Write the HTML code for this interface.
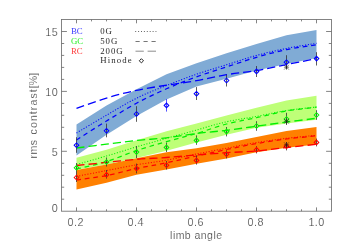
<!DOCTYPE html><html><head><meta charset="utf-8"><title>rms contrast</title>
<style>html,body{margin:0;padding:0;background:#fff;}svg{display:block;will-change:transform}text{font-family:"Liberation Sans",sans-serif;stroke:#fff;stroke-width:0.15px;}.s{font-family:"Liberation Serif",serif;stroke:none;}</style></head><body>
<svg width="350" height="250" viewBox="0 0 350 250">
<rect width="350" height="250" fill="#fff"/>
<polygon points="76.5,124.6 106.5,105.6 136.5,89.2 166.5,74.3 196.5,63.2 226.5,53.3 256.5,44.1 286.5,35.3 316.5,30.0 316.5,58.0 286.5,64.0 256.5,70.5 226.5,78.8 196.5,86.6 166.5,99.6 136.5,116.0 106.5,134.8 76.5,155.4" fill="#80abd5"/>
<polygon points="76.5,157.8 106.5,149.8 136.5,140.2 166.5,131.2 196.5,123.6 226.5,115.6 256.5,107.8 286.5,100.4 316.5,95.8 316.5,119.8 286.5,123.5 256.5,127.8 226.5,134.8 196.5,142.4 166.5,150.8 136.5,158.0 106.5,164.4 76.5,169.8" fill="#beff78"/>
<polygon points="76.5,170.0 106.5,164.6 136.5,158.2 166.5,152.2 196.5,148.2 226.5,143.0 256.5,136.9 286.5,131.0 316.5,127.0 316.5,144.6 286.5,147.8 256.5,152.2 226.5,158.6 196.5,163.8 166.5,169.4 136.5,174.8 106.5,182.8 76.5,189.4" fill="#ff8000"/>
<path d="M76.5,108.3 C81.5,106.6 96.5,101.1 106.5,98.1 C116.5,95.1 126.5,92.4 136.5,90.3 C146.5,88.2 156.5,86.8 166.5,85.2 C176.5,83.6 186.5,82.5 196.5,80.7 C206.5,79.0 216.5,76.4 226.5,74.7 C236.5,73.0 246.5,72.3 256.5,70.6 C266.5,68.9 276.5,66.6 286.5,64.6 C296.5,62.6 311.5,59.6 316.5,58.6" fill="none" stroke="#0000ff" stroke-width="1.3" stroke-dasharray="8.2 4"/>
<path d="M76.5,133.0 C81.5,130.0 96.5,121.0 106.5,115.2 C116.5,109.4 126.5,103.2 136.5,98.2 C146.5,93.2 156.5,89.5 166.5,85.5 C176.5,81.5 186.5,77.7 196.5,74.2 C206.5,70.8 216.5,67.9 226.5,64.8 C236.5,61.7 246.5,58.1 256.5,55.4 C266.5,52.7 276.5,50.4 286.5,48.4 C296.5,46.4 311.5,44.1 316.5,43.3" fill="none" stroke="#0000ff" stroke-width="1.05" stroke-dasharray="1.1 1.7"/>
<path d="M76.5,140.0 C81.5,136.8 96.5,127.1 106.5,121.0 C116.5,114.9 126.5,108.6 136.5,103.2 C146.5,97.8 156.5,93.2 166.5,88.8 C176.5,84.4 186.5,80.4 196.5,76.8 C206.5,73.2 216.5,70.2 226.5,66.9 C236.5,63.7 246.5,60.2 256.5,57.3 C266.5,54.4 276.5,51.7 286.5,49.6 C296.5,47.5 311.5,45.5 316.5,44.7" fill="none" stroke="#0000ff" stroke-width="1.25" stroke-dasharray="4.6 3.9"/>
<path d="M76.5,148.0 C81.5,147.4 96.5,145.4 106.5,144.2 C116.5,142.9 126.5,141.6 136.5,140.5 C146.5,139.4 156.5,139.0 166.5,137.8 C176.5,136.6 186.5,134.8 196.5,133.5 C206.5,132.2 216.5,131.5 226.5,130.3 C236.5,129.1 246.5,127.6 256.5,126.2 C266.5,124.8 276.5,123.3 286.5,122.0 C296.5,120.7 311.5,118.9 316.5,118.3" fill="none" stroke="#00f000" stroke-width="1.3" stroke-dasharray="8.2 4"/>
<path d="M76.5,164.5 C81.5,163.1 96.5,158.9 106.5,156.0 C116.5,153.1 126.5,149.8 136.5,146.8 C146.5,143.9 156.5,141.1 166.5,138.3 C176.5,135.5 186.5,132.8 196.5,130.0 C206.5,127.2 216.5,124.1 226.5,121.8 C236.5,119.5 246.5,118.3 256.5,116.4 C266.5,114.5 276.5,112.1 286.5,110.5 C296.5,108.9 311.5,107.6 316.5,107.0" fill="none" stroke="#00f000" stroke-width="1.05" stroke-dasharray="1.1 1.7"/>
<path d="M76.5,169.0 C81.5,167.8 96.5,164.7 106.5,161.6 C116.5,158.5 126.5,153.9 136.5,150.6 C146.5,147.3 156.5,144.4 166.5,141.6 C176.5,138.8 186.5,136.4 196.5,133.5 C206.5,130.6 216.5,126.6 226.5,124.0 C236.5,121.4 246.5,119.9 256.5,117.7 C266.5,115.5 276.5,112.7 286.5,110.9 C296.5,109.2 311.5,107.8 316.5,107.2" fill="none" stroke="#00f000" stroke-width="1.25" stroke-dasharray="4.6 3.9"/>
<path d="M76.5,165.5 C81.5,165.0 96.5,163.4 106.5,162.4 C116.5,161.4 126.5,160.1 136.5,159.3 C146.5,158.5 156.5,158.2 166.5,157.5 C176.5,156.8 186.5,155.8 196.5,155.0 C206.5,154.2 216.5,153.4 226.5,152.7 C236.5,152.0 246.5,151.9 256.5,151.0 C266.5,150.1 276.5,148.6 286.5,147.5 C296.5,146.4 311.5,144.8 316.5,144.3" fill="none" stroke="#ff0000" stroke-width="1.3" stroke-dasharray="8.2 4"/>
<path d="M76.5,176.4 C81.5,175.4 96.5,172.5 106.5,170.6 C116.5,168.7 126.5,166.5 136.5,164.8 C146.5,163.1 156.5,162.0 166.5,160.2 C176.5,158.4 186.5,156.0 196.5,154.0 C206.5,152.0 216.5,150.1 226.5,148.2 C236.5,146.3 246.5,144.2 256.5,142.6 C266.5,140.9 276.5,139.5 286.5,138.3 C296.5,137.1 311.5,135.8 316.5,135.3" fill="none" stroke="#ff0000" stroke-width="1.05" stroke-dasharray="1.1 1.7"/>
<path d="M76.5,180.0 C81.5,179.2 96.5,177.4 106.5,175.5 C116.5,173.6 126.5,170.6 136.5,168.5 C146.5,166.4 156.5,164.9 166.5,162.8 C176.5,160.7 186.5,158.2 196.5,156.0 C206.5,153.8 216.5,151.6 226.5,149.5 C236.5,147.4 246.5,145.3 256.5,143.6 C266.5,141.8 276.5,140.3 286.5,139.0 C296.5,137.7 311.5,136.3 316.5,135.8" fill="none" stroke="#ff0000" stroke-width="1.25" stroke-dasharray="4.6 3.9"/>
<line x1="76.5" y1="137.2" x2="76.5" y2="152.8" stroke="#333" stroke-width="0.8"/>
<path d="M74.2,145.2 L76.5,142.89999999999998 L78.8,145.2 L76.5,147.5 Z" fill="none" stroke="#0000ff" stroke-width="1.05"/>
<line x1="106.5" y1="123.6" x2="106.5" y2="137.3" stroke="#333" stroke-width="0.8"/>
<path d="M104.2,130.8 L106.5,128.5 L108.8,130.8 L106.5,133.10000000000002 Z" fill="none" stroke="#0000ff" stroke-width="1.05"/>
<line x1="136.5" y1="106.2" x2="136.5" y2="121.8" stroke="#333" stroke-width="0.8"/>
<path d="M134.2,114 L136.5,111.7 L138.8,114 L136.5,116.3 Z" fill="none" stroke="#0000ff" stroke-width="1.05"/>
<line x1="166.5" y1="99" x2="166.5" y2="111.6" stroke="#2828ff" stroke-width="0.8"/>
<path d="M164.2,105.4 L166.5,103.10000000000001 L168.8,105.4 L166.5,107.7 Z" fill="none" stroke="#0000ff" stroke-width="1.05"/>
<line x1="196.5" y1="87.1" x2="196.5" y2="100" stroke="#333" stroke-width="0.8"/>
<path d="M194.2,93.7 L196.5,91.4 L198.8,93.7 L196.5,96.0 Z" fill="none" stroke="#0000ff" stroke-width="1.05"/>
<line x1="226.5" y1="74.8" x2="226.5" y2="86.5" stroke="#333" stroke-width="0.8"/>
<path d="M224.2,80.5 L226.5,78.2 L228.8,80.5 L226.5,82.8 Z" fill="none" stroke="#0000ff" stroke-width="1.05"/>
<line x1="256.5" y1="66" x2="256.5" y2="77" stroke="#333" stroke-width="0.8"/>
<path d="M254.2,71.4 L256.5,69.10000000000001 L258.8,71.4 L256.5,73.7 Z" fill="none" stroke="#0000ff" stroke-width="1.05"/>
<line x1="286.5" y1="55.2" x2="286.5" y2="69" stroke="#333" stroke-width="0.8"/>
<path d="M284.2,62.2 L286.5,59.900000000000006 L288.8,62.2 L286.5,64.5 Z" fill="none" stroke="#0000ff" stroke-width="1.05"/>
<line x1="316.5" y1="52.2" x2="316.5" y2="65.5" stroke="#333" stroke-width="0.8"/>
<path d="M314.2,58.6 L316.5,56.300000000000004 L318.8,58.6 L316.5,60.9 Z" fill="none" stroke="#0000ff" stroke-width="1.05"/>
<line x1="76.5" y1="163" x2="76.5" y2="173" stroke="#333" stroke-width="0.8"/>
<path d="M74.2,167.8 L76.5,165.5 L78.8,167.8 L76.5,170.10000000000002 Z" fill="none" stroke="#00f000" stroke-width="1.05"/>
<line x1="106.5" y1="157.5" x2="106.5" y2="166.5" stroke="#333" stroke-width="0.8"/>
<path d="M104.2,162 L106.5,159.7 L108.8,162 L106.5,164.3 Z" fill="none" stroke="#00f000" stroke-width="1.05"/>
<line x1="136.5" y1="146" x2="136.5" y2="158.2" stroke="#333" stroke-width="0.8"/>
<path d="M134.2,152.1 L136.5,149.79999999999998 L138.8,152.1 L136.5,154.4 Z" fill="none" stroke="#00f000" stroke-width="1.05"/>
<line x1="166.5" y1="142.6" x2="166.5" y2="152" stroke="#333" stroke-width="0.8"/>
<path d="M164.2,147.4 L166.5,145.1 L168.8,147.4 L166.5,149.70000000000002 Z" fill="none" stroke="#00f000" stroke-width="1.05"/>
<line x1="196.5" y1="135.4" x2="196.5" y2="144.8" stroke="#333" stroke-width="0.8"/>
<path d="M194.2,140.4 L196.5,138.1 L198.8,140.4 L196.5,142.70000000000002 Z" fill="none" stroke="#00f000" stroke-width="1.05"/>
<line x1="226.5" y1="127" x2="226.5" y2="136.4" stroke="#333" stroke-width="0.8"/>
<path d="M224.2,131.6 L226.5,129.29999999999998 L228.8,131.6 L226.5,133.9 Z" fill="none" stroke="#00f000" stroke-width="1.05"/>
<line x1="256.5" y1="121.2" x2="256.5" y2="130.8" stroke="#333" stroke-width="0.8"/>
<path d="M254.2,126 L256.5,123.7 L258.8,126 L256.5,128.3 Z" fill="none" stroke="#00f000" stroke-width="1.05"/>
<line x1="286.5" y1="112.8" x2="286.5" y2="125" stroke="#333" stroke-width="0.8"/>
<path d="M284.2,119 L286.5,116.7 L288.8,119 L286.5,121.3 Z" fill="none" stroke="#00f000" stroke-width="1.05"/>
<line x1="316.5" y1="110.2" x2="316.5" y2="119.8" stroke="#333" stroke-width="0.8"/>
<path d="M314.2,115 L316.5,112.7 L318.8,115 L316.5,117.3 Z" fill="none" stroke="#00f000" stroke-width="1.05"/>
<line x1="76.5" y1="173" x2="76.5" y2="182" stroke="#333" stroke-width="0.8"/>
<path d="M74.2,177.5 L76.5,175.2 L78.8,177.5 L76.5,179.8 Z" fill="none" stroke="#ff0000" stroke-width="1.05"/>
<line x1="106.5" y1="170" x2="106.5" y2="178.6" stroke="#333" stroke-width="0.8"/>
<path d="M104.2,174.8 L106.5,172.5 L108.8,174.8 L106.5,177.10000000000002 Z" fill="none" stroke="#ff0000" stroke-width="1.05"/>
<line x1="136.5" y1="163.6" x2="136.5" y2="173.4" stroke="#333" stroke-width="0.8"/>
<path d="M134.2,168.5 L136.5,166.2 L138.8,168.5 L136.5,170.8 Z" fill="none" stroke="#ff0000" stroke-width="1.05"/>
<line x1="166.5" y1="161" x2="166.5" y2="169.5" stroke="#333" stroke-width="0.8"/>
<path d="M164.2,165.2 L166.5,162.89999999999998 L168.8,165.2 L166.5,167.5 Z" fill="none" stroke="#ff0000" stroke-width="1.05"/>
<line x1="196.5" y1="155.6" x2="196.5" y2="164.6" stroke="#333" stroke-width="0.8"/>
<path d="M194.2,160.4 L196.5,158.1 L198.8,160.4 L196.5,162.70000000000002 Z" fill="none" stroke="#ff0000" stroke-width="1.05"/>
<line x1="226.5" y1="150.4" x2="226.5" y2="158.4" stroke="#333" stroke-width="0.8"/>
<path d="M224.2,154.2 L226.5,151.89999999999998 L228.8,154.2 L226.5,156.5 Z" fill="none" stroke="#ff0000" stroke-width="1.05"/>
<line x1="256.5" y1="146.2" x2="256.5" y2="153.4" stroke="#333" stroke-width="0.8"/>
<path d="M254.2,149.8 L256.5,147.5 L258.8,149.8 L256.5,152.10000000000002 Z" fill="none" stroke="#ff0000" stroke-width="1.05"/>
<line x1="286.5" y1="142" x2="286.5" y2="150.4" stroke="#333" stroke-width="0.8"/>
<path d="M284.2,146.2 L286.5,143.89999999999998 L288.8,146.2 L286.5,148.5 Z" fill="none" stroke="#ff0000" stroke-width="1.05"/>
<line x1="316.5" y1="138.6" x2="316.5" y2="146.4" stroke="#333" stroke-width="0.8"/>
<path d="M314.2,142.4 L316.5,140.1 L318.8,142.4 L316.5,144.70000000000002 Z" fill="none" stroke="#ff0000" stroke-width="1.05"/>
<path d="M283.9,67.2H289.1M286.5,64.60000000000001V69.8M284.1,64.8L288.9,69.60000000000001M284.1,69.60000000000001L288.9,64.8" stroke="#1a1a1a" stroke-width="0.55" fill="none"/>
<path d="M283.9,121.3H289.1M286.5,118.7V123.89999999999999M284.1,118.89999999999999L288.9,123.7M284.1,123.7L288.9,118.89999999999999" stroke="#1a1a1a" stroke-width="0.55" fill="none"/>
<path d="M283.9,144.8H289.1M286.5,142.20000000000002V147.4M284.1,142.4L288.9,147.20000000000002M284.1,147.20000000000002L288.9,142.4" stroke="#1a1a1a" stroke-width="0.55" fill="none"/>
<rect x="61.5" y="19.5" width="270.0" height="191.7" fill="none" stroke="#6e6e6e" stroke-width="0.85"/>
<path d="M76.5,211.2v-3.8M76.5,19.5v3.8M91.5,211.2v-1.9M91.5,19.5v1.9M106.5,211.2v-1.9M106.5,19.5v1.9M121.5,211.2v-1.9M121.5,19.5v1.9M136.5,211.2v-3.8M136.5,19.5v3.8M151.5,211.2v-1.9M151.5,19.5v1.9M166.5,211.2v-1.9M166.5,19.5v1.9M181.5,211.2v-1.9M181.5,19.5v1.9M196.5,211.2v-3.8M196.5,19.5v3.8M211.5,211.2v-1.9M211.5,19.5v1.9M226.5,211.2v-1.9M226.5,19.5v1.9M241.5,211.2v-1.9M241.5,19.5v1.9M256.5,211.2v-3.8M256.5,19.5v3.8M271.5,211.2v-1.9M271.5,19.5v1.9M286.5,211.2v-1.9M286.5,19.5v1.9M301.5,211.2v-1.9M301.5,19.5v1.9M316.5,211.2v-3.8M316.5,19.5v3.8M61.5,199.2h2.7M331.5,199.2h-2.7M61.5,187.2h2.7M331.5,187.2h-2.7M61.5,175.3h2.7M331.5,175.3h-2.7M61.5,163.3h2.7M331.5,163.3h-2.7M61.5,151.3h5.4M331.5,151.3h-5.4M61.5,139.3h2.7M331.5,139.3h-2.7M61.5,127.3h2.7M331.5,127.3h-2.7M61.5,115.3h2.7M331.5,115.3h-2.7M61.5,103.4h2.7M331.5,103.4h-2.7M61.5,91.4h5.4M331.5,91.4h-5.4M61.5,79.4h2.7M331.5,79.4h-2.7M61.5,67.4h2.7M331.5,67.4h-2.7M61.5,55.4h2.7M331.5,55.4h-2.7M61.5,43.5h2.7M331.5,43.5h-2.7M61.5,31.5h5.4M331.5,31.5h-5.4" stroke="#6e6e6e" stroke-width="0.85" fill="none"/>
<text x="75.7" y="226.0" font-size="10.8" text-anchor="middle" fill="#484848" letter-spacing="0.45">0.2</text>
<text x="135.7" y="226.0" font-size="10.8" text-anchor="middle" fill="#484848" letter-spacing="0.45">0.4</text>
<text x="195.7" y="226.0" font-size="10.8" text-anchor="middle" fill="#484848" letter-spacing="0.45">0.6</text>
<text x="255.7" y="226.0" font-size="10.8" text-anchor="middle" fill="#484848" letter-spacing="0.45">0.8</text>
<text x="316.6" y="226.0" font-size="10.8" text-anchor="middle" fill="#484848" letter-spacing="0.45">1.0</text>
<text x="58.2" y="211.5" letter-spacing="0.45" font-size="10.8" text-anchor="end" fill="#484848">0</text>
<text x="58.2" y="155.7" letter-spacing="0.45" font-size="10.8" text-anchor="end" fill="#484848">5</text>
<text x="58.2" y="95.8" letter-spacing="0.45" font-size="10.8" text-anchor="end" fill="#484848">10</text>
<text x="58.2" y="35.9" letter-spacing="0.45" font-size="10.8" text-anchor="end" fill="#484848">15</text>
<text x="196.3" y="238.8" font-size="10.5" text-anchor="middle" fill="#484848" letter-spacing="0.45">limb angle</text>
<g transform="translate(36.9,0) rotate(-90)" font-size="10.5" fill="#484848"><text x="-158.6" y="0" letter-spacing="0.5">rms</text><text x="-134.4" y="0" letter-spacing="1.1">contrast</text><text x="-88.2" y="0" letter-spacing="0.1">[%]</text></g>
<text class="s" x="71" y="33.7" font-size="8.8" fill="#4242ff" letter-spacing="0">BC</text>
<text class="s" x="71" y="43.7" font-size="8.8" fill="#30f030" letter-spacing="0">GC</text>
<text class="s" x="71" y="53.6" font-size="8.8" fill="#ff4040" letter-spacing="0">RC</text>
<text class="s" x="100.3" y="33.7" font-size="8.8" fill="#2c2c2c" letter-spacing="0.9">0G</text>
<text class="s" x="100.3" y="43.7" font-size="8.8" fill="#2c2c2c" letter-spacing="0.9">50G</text>
<text class="s" x="100.3" y="53.6" font-size="8.8" fill="#2c2c2c" letter-spacing="0.9">200G</text>
<text class="s" x="100.3" y="63.2" font-size="8.8" fill="#2c2c2c" letter-spacing="1.1">Hinode</text>
<path d="M135.2,31.5H156.4" stroke="#555" stroke-width="0.9" stroke-dasharray="1 1.9" fill="none"/>
<path d="M135.5,41.5H156" stroke="#686868" stroke-width="0.9" stroke-dasharray="4.2 3.8" fill="none"/>
<path d="M135.5,51.2H143.8M147.6,51.2H156" stroke="#808080" stroke-width="0.9" fill="none"/>
<path d="M139.3,60.8 L141.4,58.699999999999996 L143.5,60.8 L141.4,62.9 Z" fill="none" stroke="#222" stroke-width="1"/>
</svg></body></html>
